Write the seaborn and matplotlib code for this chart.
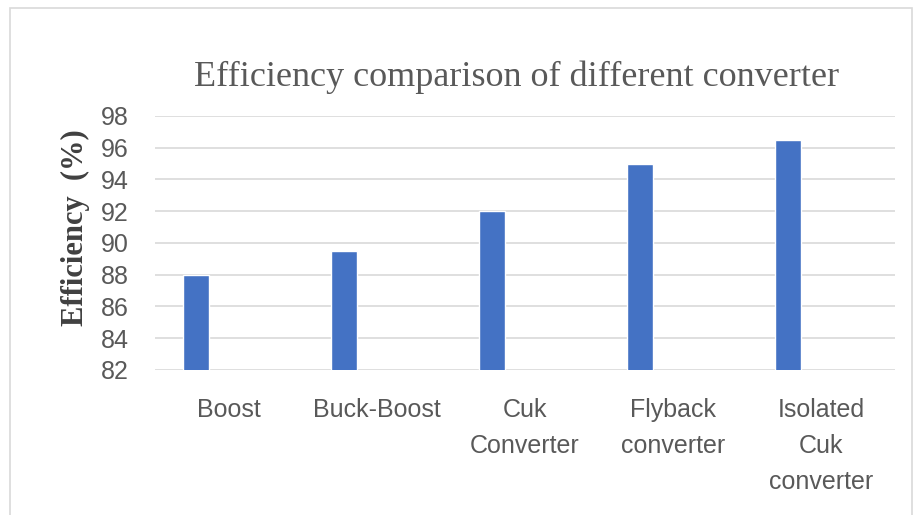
import pandas as pd
import matplotlib.pyplot as plt
import matplotlib.patches as mpatches
import seaborn as sns

converters = ["Boost", "Buck-Boost", "Cuk\nConverter", "Flyback\nconverter", "Isolated\nCuk\nconverter"]
efficiency = [88, 89.5, 92, 95, 96.5]
yticks = [82, 84, 86, 88, 90, 92, 94, 96, 98]

df = pd.DataFrame({"converter": converters, "efficiency": efficiency})

sns.set_theme(style="white")
plt.rcParams['font.family'] = ['Liberation Sans', 'DejaVu Sans']

fig = plt.figure(figsize=(9.18, 5.15), dpi=100)
ax = fig.add_axes([0.1688, 0.2816, 0.806, 0.4932])

# Excel-style clustered bar: narrow and pushed left of the category centre
ax = sns.barplot(data=df, x="converter", y="efficiency", color="#4472C4",
                 width=0.175, saturation=1, ax=ax)
for p in ax.patches:
    p.set_x(p.get_x() - 0.225)

ax.set_ylim(82, 98)
ax.set_yticks(yticks)
ax.set_xlim(-0.5, len(converters) - 0.5)
ax.yaxis.grid(True, color="#d9d9d9", linewidth=1.2)
ax.set_axisbelow(True)
for s in ax.spines.values():
    s.set_visible(False)
ax.tick_params(axis="both", length=0, colors="#595959", labelsize=18)
ax.tick_params(axis="y", pad=19)
ax.tick_params(axis="x", pad=20)
for lbl in ax.get_xticklabels():
    lbl.set_linespacing(1.65)
ax.set_xlabel("")
ax.set_ylabel("Efficiency  (%)", family="Liberation Serif", fontweight="bold",
              fontsize=22, color="#404040")
ax.yaxis.set_label_coords(-0.088, 0.56)

fig.text(0.563, 0.85, "Efficiency comparison of different converter",
         family="Liberation Serif", fontsize=26, color="#595959",
         ha="center", va="center")

# chart border
fig.patches.append(mpatches.Rectangle((10 / 918, -0.02), 902 / 918, 1 - 8 / 515 + 0.02,
                                      transform=fig.transFigure, fill=False,
                                      edgecolor="#d9d9d9", linewidth=1.2))

fig.savefig("out.png", dpi=100)
